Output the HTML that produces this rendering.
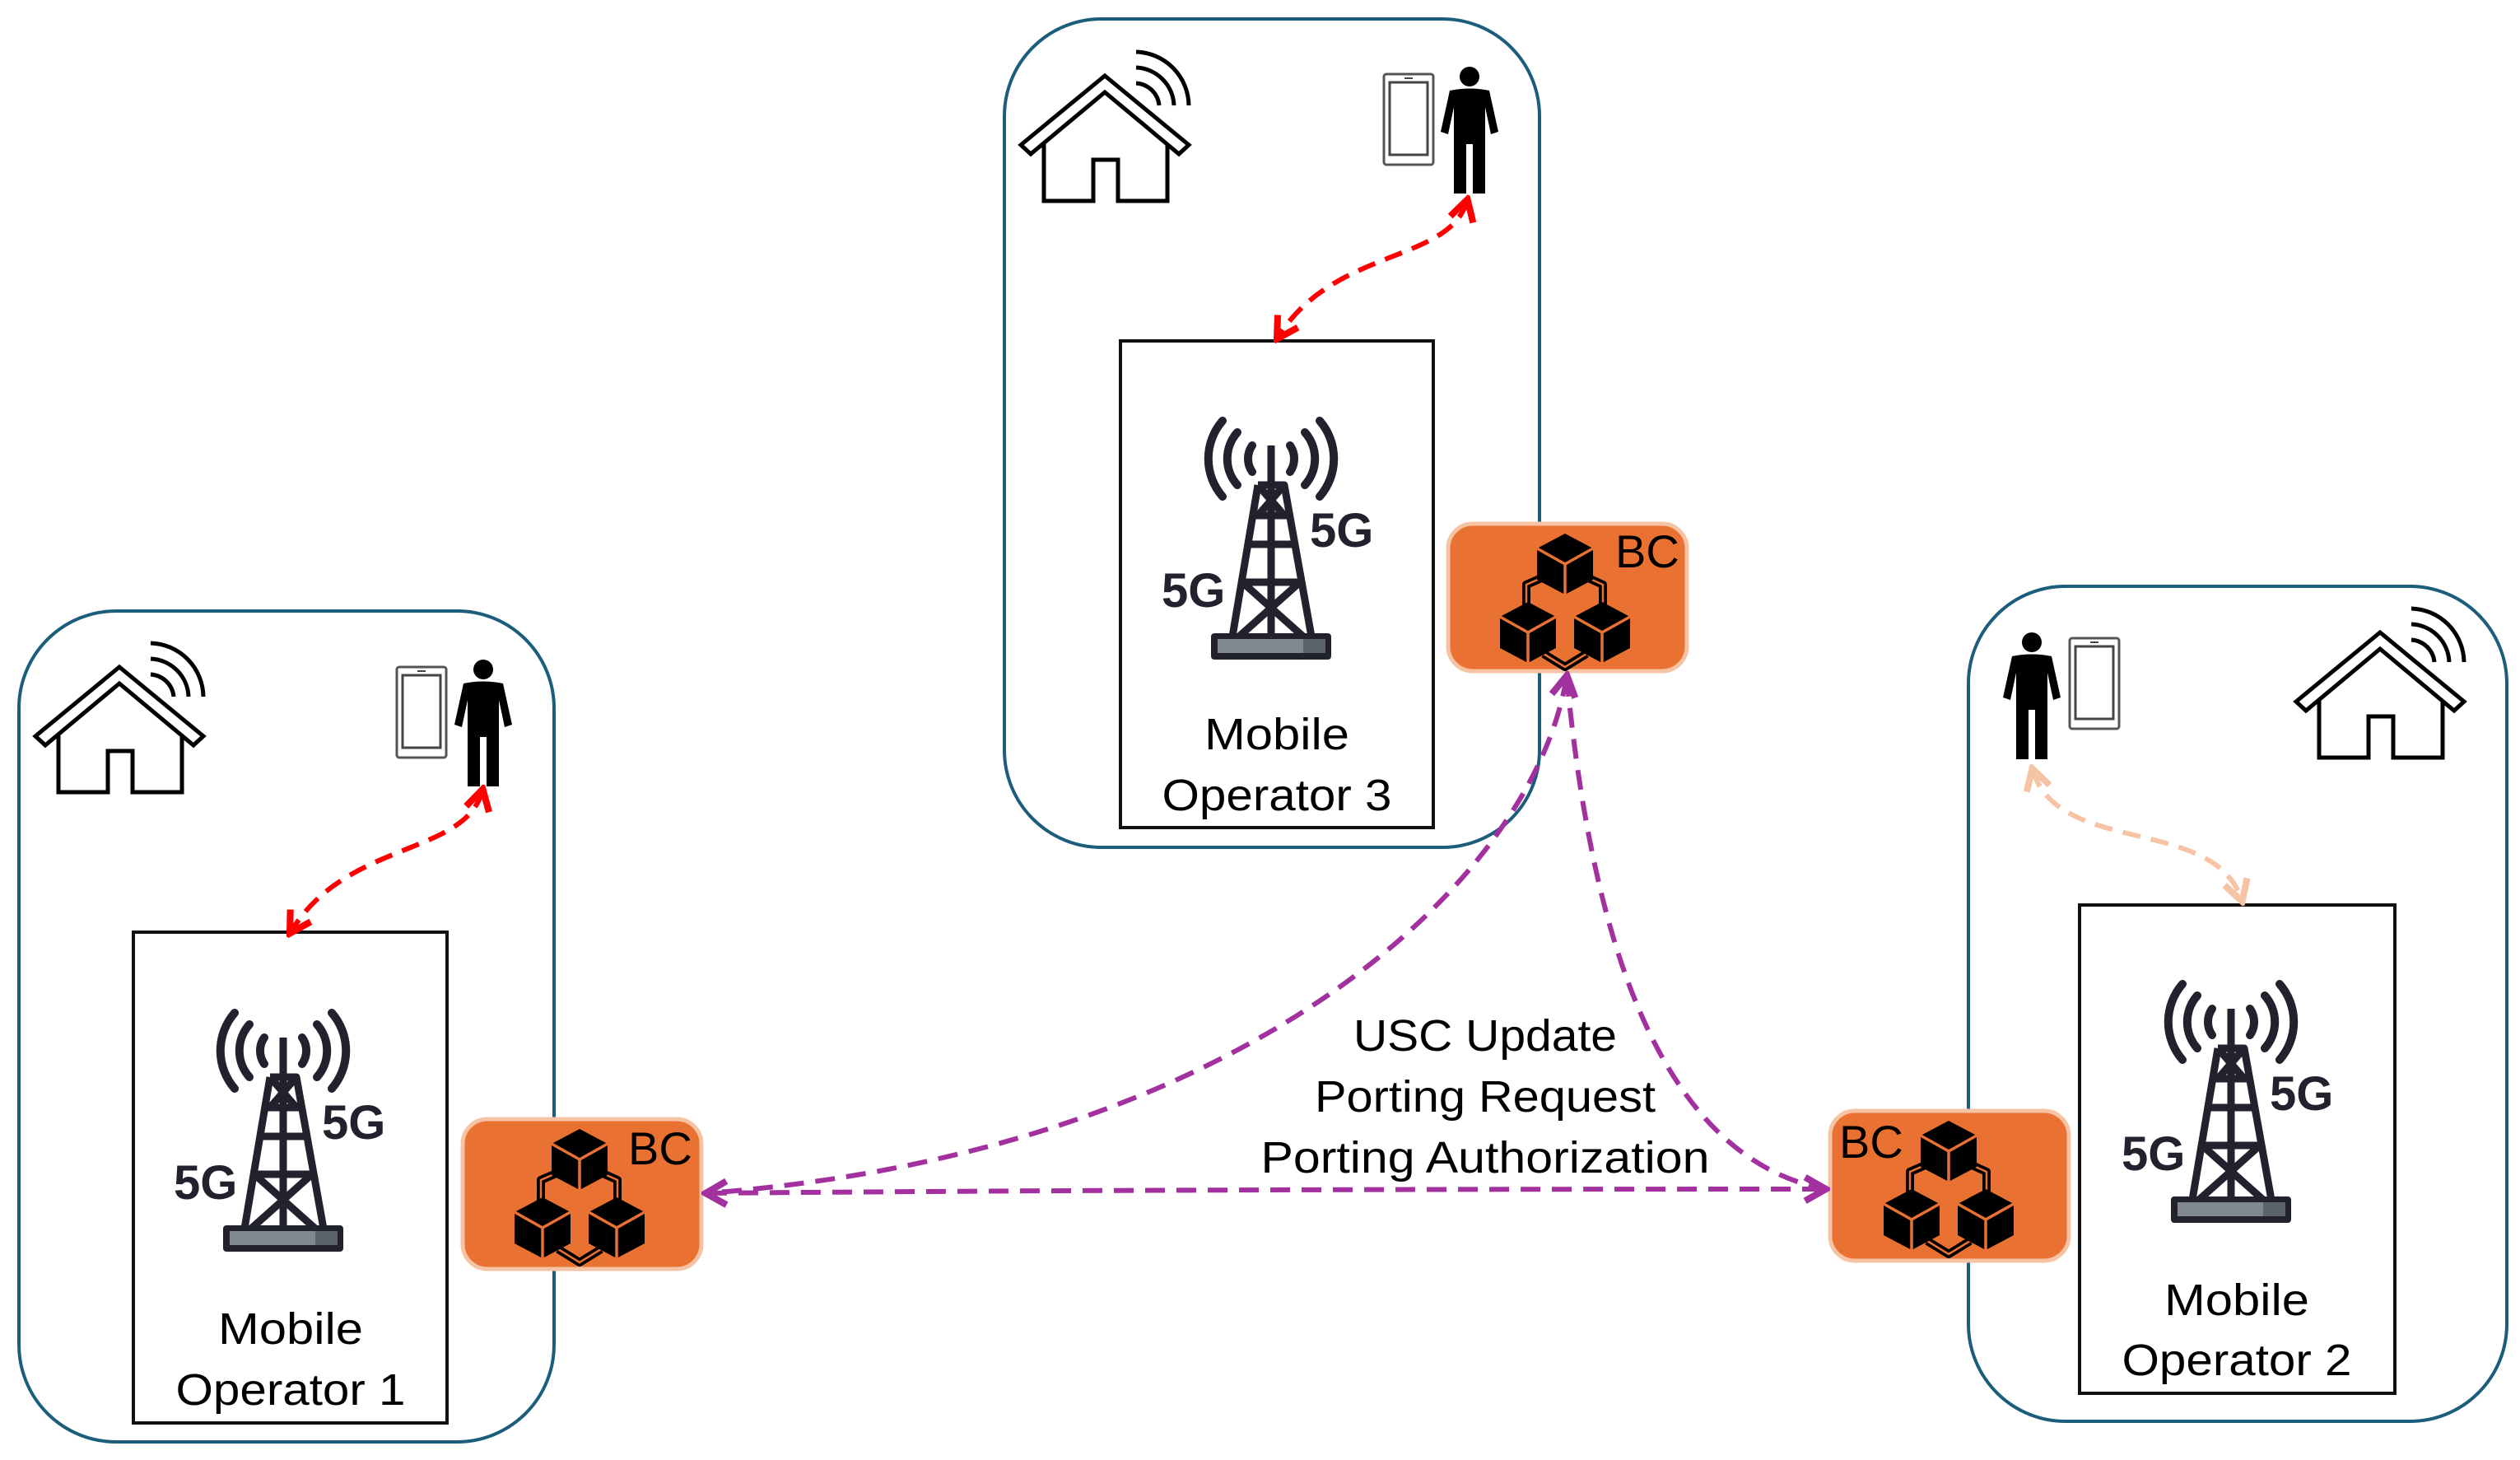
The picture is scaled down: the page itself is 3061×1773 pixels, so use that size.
<!DOCTYPE html>
<html><head><meta charset="utf-8"><style>html,body{margin:0;padding:0;background:#fff}svg{display:block}</style></head>
<body>
<svg width="3061" height="1773" viewBox="0 0 3061 1773" xmlns="http://www.w3.org/2000/svg" font-family="Liberation Sans, sans-serif">
<defs>
<marker id="mr" viewBox="0 0 20 20" refX="16" refY="10" markerWidth="6" markerHeight="6" orient="auto-start-reverse" markerUnits="strokeWidth"><path d="M3,2 L17,10 L3,18" fill="none" stroke="#ff0000" stroke-width="4.5"/></marker>
<marker id="mp" viewBox="0 0 20 20" refX="16" refY="10" markerWidth="6" markerHeight="6" orient="auto-start-reverse" markerUnits="strokeWidth"><path d="M3,2 L17,10 L3,18" fill="none" stroke="#a2309f" stroke-width="4.5"/></marker>
<marker id="mo" viewBox="0 0 20 20" refX="16" refY="10" markerWidth="6" markerHeight="6" orient="auto-start-reverse" markerUnits="strokeWidth"><path d="M3,2 L17,10 L3,18" fill="none" stroke="#f6c4a4" stroke-width="4.5"/></marker>
<g id="house">
<path d="M28,100 L28,178 L88,178 L88,128 L118,128 L118,178 L178,178 L178,100" fill="#fff" stroke="#000" stroke-width="5"/>
<path d="M0,110 L102,26 L204,110 L192,121 L102,46 L12,121 Z" fill="#fff" stroke="#000" stroke-width="5" stroke-linejoin="miter"/>
<path d="M140,35 A30,30 0 0 1 168,62" fill="none" stroke="#000" stroke-width="5"/>
<path d="M140,16 A48,48 0 0 1 186,62" fill="none" stroke="#000" stroke-width="5"/>
<path d="M140,-3 A66,66 0 0 1 204,62" fill="none" stroke="#000" stroke-width="5"/>
</g>
<g id="person">
<circle cx="38" cy="13" r="12" fill="#000"/>
<path d="M14,30 Q38,25 62,30 L73,80 L64,83 L57,50 L57,155 L42,155 L42,95 L34,95 L34,155 L19,155 L19,50 L12,83 L3,80 Z" fill="#000"/>
</g>
<g id="tablet">
<rect x="2" y="2" width="60" height="110" rx="3" fill="#fff" stroke="#555" stroke-width="3"/>
<rect x="9" y="12" width="46" height="88" fill="none" stroke="#444" stroke-width="3"/>
<line x1="27" y1="7" x2="37" y2="7" stroke="#444" stroke-width="2"/>
</g>
<g id="tower">
<g fill="none" stroke="#22222e" stroke-width="10" stroke-linecap="round">
<path d="M110,30 A28,28 0 0 0 110,62"/>
<path d="M92,14 A48,48 0 0 0 92,78"/>
<path d="M74,0 A70,70 0 0 0 74,92"/>
<path d="M156,30 A28,28 0 0 1 156,62"/>
<path d="M174,14 A48,48 0 0 1 174,78"/>
<path d="M192,0 A70,70 0 0 1 192,92"/>
</g>
<g fill="none" stroke="#22222e" stroke-width="9" stroke-linejoin="round">
<line x1="133" y1="30" x2="133" y2="262"/>
<path d="M117,78 L149,78 L182,262 M117,78 L86,262"/>
<path d="M111,115 L155,115 M105,150 L161,150 M98,196 L168,196 M117,78 L149,115 M149,78 L117,115 M98,196 L172,262 M168,196 L94,262"/>
</g>
<rect x="60" y="258" width="146" height="32" rx="4" fill="#22222e"/>
<rect x="68" y="265" width="104" height="17" fill="#7f8890"/>
<rect x="172" y="265" width="27" height="17" fill="#5b646c"/>
<text x="180" y="153" font-size="58" font-weight="bold" fill="#22222e">5G</text>
<text x="0" y="226" font-size="58" font-weight="bold" fill="#22222e">5G</text>
</g>
<g id="cube">
<path d="M0,-37 L34,-19 L34,19 L0,37 L-34,19 L-34,-19 Z" fill="#000"/>
<path d="M-34,-19 L0,0 L34,-19 M0,0 L0,37" fill="none" stroke="#e97132" stroke-width="3.5"/>
</g>
<g id="chain">
<path d="M120,66 L97,76 L97,106 M168,66 L190,76 L190,106 M118,160 L144,176 L170,160" fill="none" stroke="#000" stroke-width="10" stroke-linejoin="round"/>
<path d="M120,66 L97,76 L97,106 M168,66 L190,76 L190,106 M118,160 L144,176 L170,160" fill="none" stroke="#e97132" stroke-width="2.5"/>
<use href="#cube" x="144" y="51"/>
<use href="#cube" x="99" y="134"/>
<use href="#cube" x="189" y="134"/>
</g>
</defs>

<!-- Operator 3 -->
<rect x="1220" y="23" width="650" height="1006" rx="118" fill="#fff" stroke="#1c5d7c" stroke-width="4"/>
<rect x="1361" y="414" width="380" height="591" fill="#fff" stroke="#111" stroke-width="4"/>
<use href="#house" x="1240" y="66"/>
<use href="#tablet" x="1679" y="88"/>
<use href="#person" x="1747" y="80"/>
<g transform="translate(1411,511)"><use href="#tower"/></g>
<text x="1551" y="910" font-size="54" text-anchor="middle" textLength="176" lengthAdjust="spacingAndGlyphs">Mobile</text>
<text x="1551" y="984" font-size="54" text-anchor="middle" textLength="279" lengthAdjust="spacingAndGlyphs">Operator 3</text>
<path d="M1782,244 C1760,320 1620,300 1552,410" fill="none" stroke="#ff0000" stroke-width="6" stroke-dasharray="22,13" marker-start="url(#mr)" marker-end="url(#mr)"/>

<!-- Operator 1 -->
<rect x="23" y="742" width="650" height="1009" rx="118" fill="#fff" stroke="#1c5d7c" stroke-width="4"/>
<rect x="162" y="1132" width="381" height="596" fill="#fff" stroke="#111" stroke-width="4"/>
<use href="#house" x="43" y="784"/>
<use href="#tablet" x="480" y="808"/>
<use href="#person" x="549" y="800"/>
<g transform="translate(211,1230)"><use href="#tower"/></g>
<text x="353" y="1632" font-size="54" text-anchor="middle" textLength="176" lengthAdjust="spacingAndGlyphs">Mobile</text>
<text x="353" y="1706" font-size="54" text-anchor="middle" textLength="279" lengthAdjust="spacingAndGlyphs">Operator 1</text>
<path d="M586,960 C565,1040 420,1020 353,1132" fill="none" stroke="#ff0000" stroke-width="6" stroke-dasharray="22,13" marker-start="url(#mr)" marker-end="url(#mr)"/>

<!-- Operator 2 -->
<rect x="2391" y="712" width="654" height="1014" rx="118" fill="#fff" stroke="#1c5d7c" stroke-width="4"/>
<rect x="2526" y="1099" width="383" height="593" fill="#fff" stroke="#111" stroke-width="4"/>
<use href="#house" x="2789" y="742"/>
<use href="#person" x="2430" y="767"/>
<use href="#tablet" x="2512" y="773"/>
<g transform="translate(2577,1195)"><use href="#tower"/></g>
<text x="2717" y="1597" font-size="54" text-anchor="middle" textLength="176" lengthAdjust="spacingAndGlyphs">Mobile</text>
<text x="2717" y="1670" font-size="54" text-anchor="middle" textLength="279" lengthAdjust="spacingAndGlyphs">Operator 2</text>
<path d="M2469,935 C2500,1040 2690,990 2723,1093" fill="none" stroke="#f6c4a4" stroke-width="6" stroke-dasharray="22,13" marker-start="url(#mo)" marker-end="url(#mo)"/>

<!-- BC boxes -->
<rect x="1759" y="636" width="290" height="179" rx="30" fill="#e97132" stroke="#f6c4a4" stroke-width="5"/>
<g transform="translate(1757,634)"><use href="#chain"/></g>
<text x="1962" y="689" font-size="56">BC</text>

<rect x="562" y="1359" width="290" height="182" rx="30" fill="#e97132" stroke="#f6c4a4" stroke-width="5"/>
<g transform="translate(560,1357)"><use href="#chain"/></g>
<text x="763" y="1414" font-size="56">BC</text>

<rect x="2223" y="1349" width="290" height="182" rx="30" fill="#e97132" stroke="#f6c4a4" stroke-width="5"/>
<g transform="translate(2223,1347)"><use href="#chain"/></g>
<text x="2234" y="1406" font-size="56">BC</text>

<!-- purple connectors -->
<g fill="none" stroke="#a2309f" stroke-width="6" stroke-dasharray="24,14">
<path d="M859,1449 C1300,1445 1800,1444 2216,1444" marker-start="url(#mp)" marker-end="url(#mp)"/>
<path d="M1903,822 C1860,1080 1500,1400 859,1449" marker-start="url(#mp)"/>
<path d="M1903,822 C1930,1100 2000,1400 2216,1444"/>
</g>
<g font-size="54" text-anchor="middle">
<text x="1804" y="1276" textLength="320" lengthAdjust="spacingAndGlyphs">USC Update</text>
<text x="1804" y="1350" textLength="414" lengthAdjust="spacingAndGlyphs">Porting Request</text>
<text x="1804" y="1424" textLength="545" lengthAdjust="spacingAndGlyphs">Porting Authorization</text>
</g>
</svg>
</body></html>
